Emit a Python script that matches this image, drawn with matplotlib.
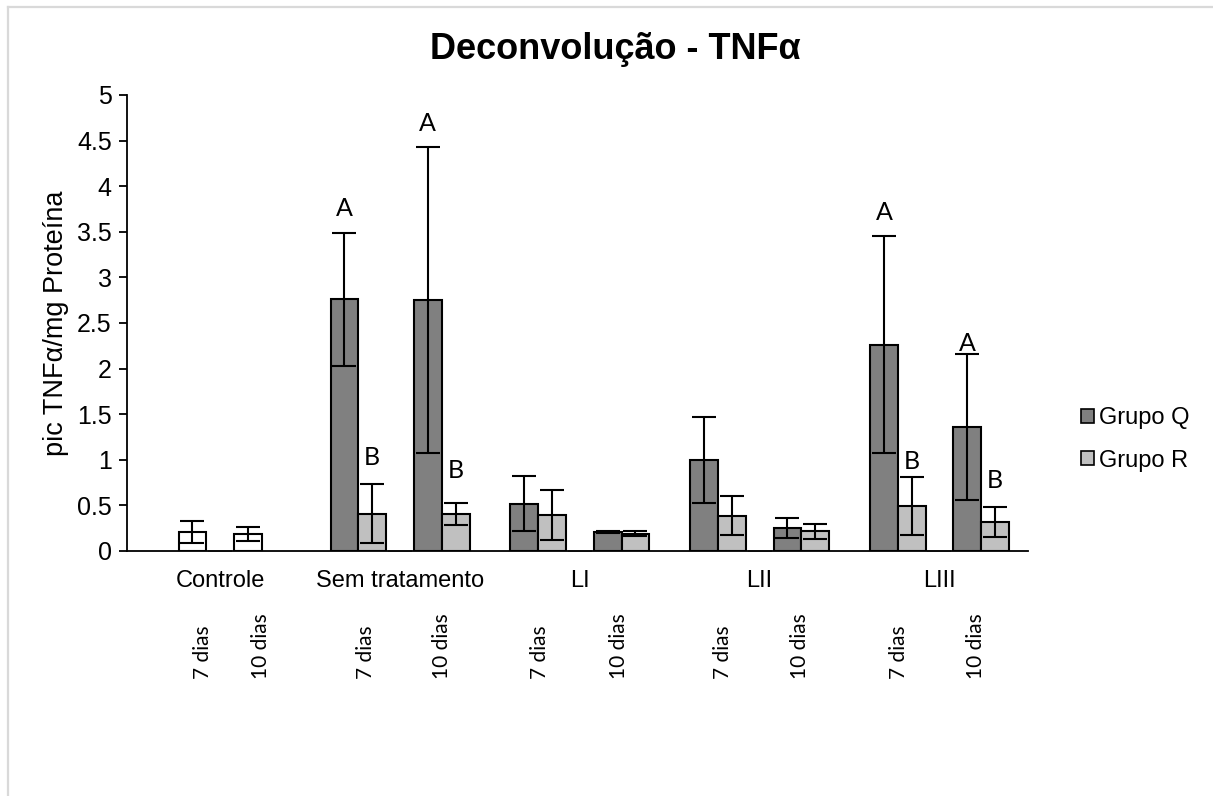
import numpy as np
import matplotlib
matplotlib.use("Agg")
import matplotlib.pyplot as plt
from matplotlib.patches import Patch
from matplotlib.lines import Line2D
import matplotlib.transforms as mtransforms

# ---- data -------------------------------------------------------------
groups = ["Controle", "Sem tratamento", "LI", "LII", "LIII"]
day_labels = ["7 dias", "10 dias"]

# Controle (white bars): 7 dias, 10 dias
controle = [0.205, 0.185]
controle_err = [0.12, 0.075]

# Treated groups (Sem tratamento, LI, LII, LIII)
grupo_q_7 = [2.76, 0.52, 1.00, 2.26]
grupo_q_7_err = [0.73, 0.30, 0.47, 1.19]
grupo_r_7 = [0.41, 0.395, 0.385, 0.49]
grupo_r_7_err = [0.32, 0.27, 0.215, 0.32]
grupo_q_10 = [2.75, 0.205, 0.255, 1.355]
grupo_q_10_err = [1.68, 0.01, 0.11, 0.80]
grupo_r_10 = [0.41, 0.19, 0.215, 0.32]
grupo_r_10_err = [0.12, 0.028, 0.083, 0.165]

# empty separator series between 7 and 10 dias
separador = [0, 0, 0, 0, 0]

# significance letters: (group index, slot, letter, label height)
letras = [
    (1, 0, "A", 3.75), (1, 1, "B", 1.03), (1, 3, "A", 4.69), (1, 4, "B", 0.88),
    (4, 0, "A", 3.71), (4, 1, "B", 0.98), (4, 3, "A", 2.28), (4, 4, "B", 0.77),
]

# ---- layout helpers ---------------------------------------------------
GROUP_W = 6.47       # slots per category
LEFT_GAP = 0.735     # gap before first bar inside a category

def slot_x(g, s):
    return g * GROUP_W + LEFT_GAP + s + 0.5

def group_center(g):
    return g * GROUP_W + LEFT_GAP + 2.5

W, H = 1213, 796
fig = plt.figure(figsize=(W / 100, H / 100), dpi=100)
ax = fig.add_axes([127 / W, (H - 551) / H, (1028 - 127) / W, (551 - 95) / H])

dark = "#808080"
light = "#c0c0c0"
bar_kw = dict(width=1.0, edgecolor="black", linewidth=1.5, zorder=2)
err_kw = dict(fmt="none", ecolor="black", elinewidth=1.5, capsize=8.5, capthick=1.5, zorder=3)

# Controle
cx = [slot_x(0, 1), slot_x(0, 3)]
ax.bar(cx, controle, color="white", **bar_kw)
ax.errorbar(cx, controle, yerr=controle_err, **err_kw)

# treated groups
gi = np.arange(1, 5)
series = [
    (0, grupo_q_7, grupo_q_7_err, dark),
    (1, grupo_r_7, grupo_r_7_err, light),
    (3, grupo_q_10, grupo_q_10_err, dark),
    (4, grupo_r_10, grupo_r_10_err, light),
]
for s, vals, errs, col in series:
    xs = [slot_x(g, s) for g in gi]
    ax.bar(xs, vals, color=col, **bar_kw)
    ax.errorbar(xs, vals, yerr=errs, **err_kw)

# separator series (zero values, only the cap is visible)
sx = [slot_x(g, 2) for g in range(5)]
ax.errorbar(sx, separador, yerr=np.zeros(5), fmt="none", ecolor="#8c8c8c",
            elinewidth=1.0, capsize=8.5, capthick=1.2, zorder=1)

# letters
for g, s, txt, yv in letras:
    ax.text(slot_x(g, s), yv, txt, ha="center", va="center",
            fontsize=18, family="Lato", color="black", zorder=4)

# axes styling
ax.set_xlim(-0.12, 5 * GROUP_W - 0.05)
ax.set_ylim(0, 5)
ax.set_yticks(np.arange(0, 5.01, 0.5))
ax.set_yticklabels([("%g" % v) for v in np.arange(0, 5.01, 0.5)],
                   family="Liberation Sans", fontsize=18)
ax.set_xticks([])
for side in ("top", "right"):
    ax.spines[side].set_visible(False)
for side in ("left", "bottom"):
    ax.spines[side].set_linewidth(1.3)
    ax.spines[side].set_color("black")
ax.tick_params(axis="y", direction="out", length=5.5, width=1.3, pad=5.5)

ax.set_ylabel("pic TNFα/mg Proteína", family="Liberation Sans", fontsize=19.5, labelpad=6)

# category labels
tr = mtransforms.blended_transform_factory(ax.transData, ax.transAxes)
for g, name in enumerate(groups):
    ax.text(group_center(g), (551 - 581) / 456, name, transform=tr,
            ha="center", va="center", family="Liberation Sans", fontsize=17)

# day labels (vertical), bottom aligned
dias_x = [(203, 261), (366, 442), (540, 619), (723, 800), (899, 976)]
for g in range(5):
    for k, label in enumerate(day_labels):
        px = dias_x[g][k]
        fig.text(px / W, (H - 679) / H, label, rotation=90, ha="center", va="bottom",
                 family="Lato", fontsize=15)

# title
fig.text(615 / W, (H - 59) / H, "Deconvolução - TNFα", ha="center", va="baseline",
         family="Liberation Sans", fontsize=26, fontweight="bold")

# legend
handles = [Patch(facecolor=dark, edgecolor="black", linewidth=1.2, label="Grupo Q"),
           Patch(facecolor=light, edgecolor="black", linewidth=1.2, label="Grupo R")]
fig.legend(handles=handles, loc="center left", bbox_to_anchor=(1064 / W, (H - 439.5) / H),
           frameon=False, prop={"family": "Liberation Sans", "size": 17},
           handlelength=0.55, handleheight=0.55, handletextpad=0.25, labelspacing=0.85,
           borderpad=0.2)

# outer chart border
fig.add_artist(Line2D([7.5 / W, 7.5 / W], [0, (H - 6.5) / H], color="#d9d9d9", lw=1.6,
                      transform=fig.transFigure))
fig.add_artist(Line2D([7.5 / W, 1.0], [(H - 6.5) / H, (H - 6.5) / H], color="#d9d9d9", lw=1.6,
                      transform=fig.transFigure))

fig.savefig("out.png", dpi=100)
